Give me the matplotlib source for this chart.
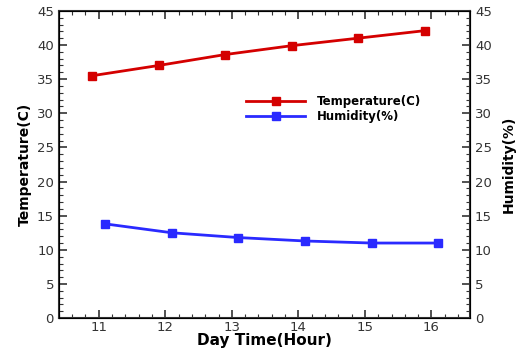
import matplotlib.pyplot as plt
from matplotlib.ticker import MultipleLocator

# Dados
horas = [11, 12, 13, 14, 15, 16]
temperatura = [35.5, 37.0, 38.6, 39.9, 41.0, 42.1]
umidade = [13.8, 12.5, 11.8, 11.3, 11.0, 11.0]

x_temp = [h - 0.1 for h in horas]
x_umid = [h + 0.1 for h in horas]

fig = plt.figure(figsize=(5.16, 3.5), dpi=100)
ax = fig.add_axes([0.114, 0.091, 0.797, 0.878])

ax.plot(x_temp, temperatura, color='#d40000', lw=2.0, marker='s', ms=5.5,
        label='Temperature(C)')
ax.plot(x_umid, umidade, color='#2a2aff', lw=2.0, marker='s', ms=5.5,
        label='Humidity(%)')

ax.set_xlim(10.4, 16.58)
ax.set_ylim(0, 45)
ax.xaxis.set_major_locator(MultipleLocator(1))
ax.xaxis.set_minor_locator(MultipleLocator(0.2))
ax.yaxis.set_major_locator(MultipleLocator(5))
ax.yaxis.set_minor_locator(MultipleLocator(1))
ax.tick_params(which='both', direction='in', top=True, right=False,
               labelsize=9.5, colors='#333333', width=1.2)
ax.tick_params(axis='x', pad=2)
ax.tick_params(which='major', length=6)
ax.tick_params(which='minor', length=3, width=0.8)
for s in ax.spines.values():
    s.set_linewidth(1.5)
    s.set_color('#333333')

ax.set_xlabel('Day Time(Hour)', fontsize=11, fontweight='bold', labelpad=0)
ax.xaxis.set_label_coords(0.5, -0.047)
ax.set_ylabel('Temperature(C)', fontsize=10, fontweight='bold', labelpad=4)

ax2 = ax.twinx()
ax2.set_ylim(0, 45)
ax2.yaxis.set_major_locator(MultipleLocator(5))
ax2.yaxis.set_minor_locator(MultipleLocator(1))
ax2.tick_params(which='both', direction='in', labelsize=9.5, colors='#333333', width=1.2)
ax2.tick_params(which='major', length=6)
ax2.tick_params(which='minor', length=3, width=0.8)
ax2.set_ylabel('Humidity(%)', fontsize=10, fontweight='bold', labelpad=7)

leg = ax.legend(loc='upper left', bbox_to_anchor=(0.43, 0.76), frameon=False,
                prop={'weight': 'bold', 'size': 8.5},
                handlelength=5.0, handletextpad=1.0, labelspacing=0.15)

fig.savefig('out.png', dpi=100)
